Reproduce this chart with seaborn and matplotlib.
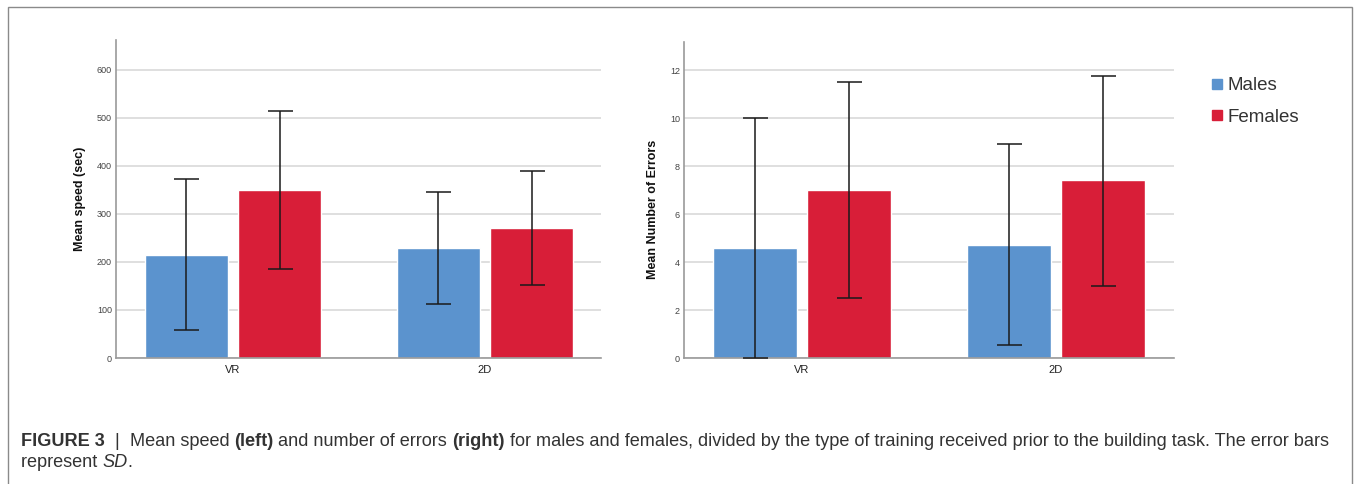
import matplotlib
matplotlib.use("Agg")
import matplotlib.pyplot as plt
from matplotlib.patches import Rectangle
from matplotlib.lines import Line2D
import pandas as pd
import seaborn as sns

# Data
training = ["VR", "2D"]
groups = ["Males", "Females"]

speed_males = [215, 228]
speed_females = [350, 270]
speed_males_lo = [58, 112]
speed_males_hi = [373, 345]
speed_females_lo = [185, 152]
speed_females_hi = [515, 390]

errors_males = [4.6, 4.7]
errors_females = [7.0, 7.4]
errors_males_lo = [0.0, 0.55]
errors_males_hi = [10.0, 8.9]
errors_females_lo = [2.5, 3.0]
errors_females_hi = [11.5, 11.75]

speed_ticks = [0, 100, 200, 300, 400, 500, 600]
error_ticks = [0, 2, 4, 6, 8, 10, 12]

COLORS = {"Males": "#5b93ce", "Females": "#d81e38"}
W, H = 1356, 484


def make_frame(males, females, m_lo, m_hi, f_lo, f_hi):
    rows = []
    for i, t in enumerate(training):
        rows.append({"training": t, "sex": "Males", "value": males[i], "lo": m_lo[i], "hi": m_hi[i]})
        rows.append({"training": t, "sex": "Females", "value": females[i], "lo": f_lo[i], "hi": f_hi[i]})
    return pd.DataFrame(rows)


def draw_panel(ax, df, ylabel, ticks, ylim, xlim, label_xy):
    sns.barplot(data=df, x="training", y="value", hue="sex", order=training,
                hue_order=groups, palette=COLORS, width=0.74, gap=0.11,
                errorbar=None, saturation=1, legend=False, ax=ax, zorder=2)
    # error bars (SD) from the bar centres
    for container, sex in zip(ax.containers, groups):
        sub = df[df["sex"] == sex].set_index("training").loc[training]
        xs = [p.get_x() + p.get_width() / 2 for p in container]
        ax.errorbar(xs, sub["value"], yerr=[sub["value"] - sub["lo"], sub["hi"] - sub["value"]],
                    fmt="none", ecolor="#1a1a1a", elinewidth=1.1, capsize=9,
                    capthick=1.1, zorder=3, clip_on=False)
    ax.set_ylim(*ylim)
    ax.set_xlim(*xlim)
    ax.set_yticks(ticks)
    ax.set_yticklabels([str(t) for t in ticks], fontsize=6.5, color="#444444")
    ax.tick_params(axis="y", length=0, pad=3)
    ax.tick_params(axis="x", length=0, labelsize=8, labelcolor="#222222", pad=5)
    ax.yaxis.grid(True, color="#d6d6d6", linewidth=1.1, zorder=0)
    ax.xaxis.grid(False)
    ax.set_axisbelow(True)
    ax.set_xlabel("")
    ax.set_ylabel(ylabel, fontsize=9, fontweight="bold", color="#111111")
    ax.yaxis.set_label_coords(*label_xy)
    for s in ["top", "right"]:
        ax.spines[s].set_visible(False)
    for s in ["left", "bottom"]:
        ax.spines[s].set_color("#9a9a9a")
        ax.spines[s].set_linewidth(1.2)


def write_runs(fig, renderer, x_px, y_px, runs, size):
    x = x_px
    for text, kw in runs:
        t = fig.text(x / W, 1 - y_px / H, text, fontsize=size, color="#333333",
                     family="Liberation Sans", va="baseline", ha="left", **kw)
        x += t.get_window_extent(renderer).width


def main():
    sns.set_theme(style="white")
    plt.rcParams["font.family"] = ["Liberation Sans", "DejaVu Sans"]

    fig = plt.figure(figsize=(W / 100, H / 100), dpi=100)
    fig.patch.set_facecolor("white")

    ax1 = fig.add_axes([116 / W, 1 - 358 / H, 485 / W, 318 / H])
    ax2 = fig.add_axes([684 / W, 1 - 358 / H, 490 / W, 316 / H])

    speed_df = make_frame(speed_males, speed_females, speed_males_lo, speed_males_hi,
                          speed_females_lo, speed_females_hi)
    error_df = make_frame(errors_males, errors_females, errors_males_lo, errors_males_hi,
                          errors_females_lo, errors_females_hi)

    draw_panel(ax1, speed_df, "Mean speed (sec)", speed_ticks, (0, 662),
               (-0.464, 1.46), (-0.061, 0.5))
    draw_panel(ax2, error_df, "Mean Number of Errors", error_ticks, (0, 13.17),
               (-0.465, 1.465), (-0.05, 0.47))

    # legend to the right of the second panel
    handles = [Line2D([0], [0], marker="s", linestyle="none", markersize=7,
                      markerfacecolor=COLORS[g], markeredgecolor=COLORS[g]) for g in groups]
    fig.legend(handles, groups, loc="upper left", bbox_to_anchor=(1209 / W, 1 - 77 / H),
               frameon=False, fontsize=13.5, handlelength=0.8, handletextpad=0.2,
               labelspacing=0.78, labelcolor="#333333", borderaxespad=0, borderpad=0)

    # outer frame
    fig.add_artist(Rectangle((8 / W, -0.02), (1352 - 8) / W, 1.02 - 7 / H,
                             transform=fig.transFigure, fill=False,
                             edgecolor="#8a8a8a", linewidth=1.0))

    # caption
    fig.canvas.draw()
    renderer = fig.canvas.get_renderer()
    size = 13.1
    line1 = [
        ("FIGURE 3", {"fontweight": "bold"}),
        ("  |  ", {}),
        ("Mean speed ", {}),
        ("(left)", {"fontweight": "bold"}),
        (" and number of errors ", {}),
        ("(right)", {"fontweight": "bold"}),
        (" for males and females, divided by the type of training received prior to the building task. The error bars", {}),
    ]
    line2 = [
        ("represent ", {}),
        ("SD", {"style": "italic"}),
        (".", {}),
    ]
    write_runs(fig, renderer, 21, 446, line1, size)
    write_runs(fig, renderer, 21, 467, line2, size)

    fig.savefig("out.png", dpi=100, facecolor="white")


if __name__ == "__main__":
    main()
